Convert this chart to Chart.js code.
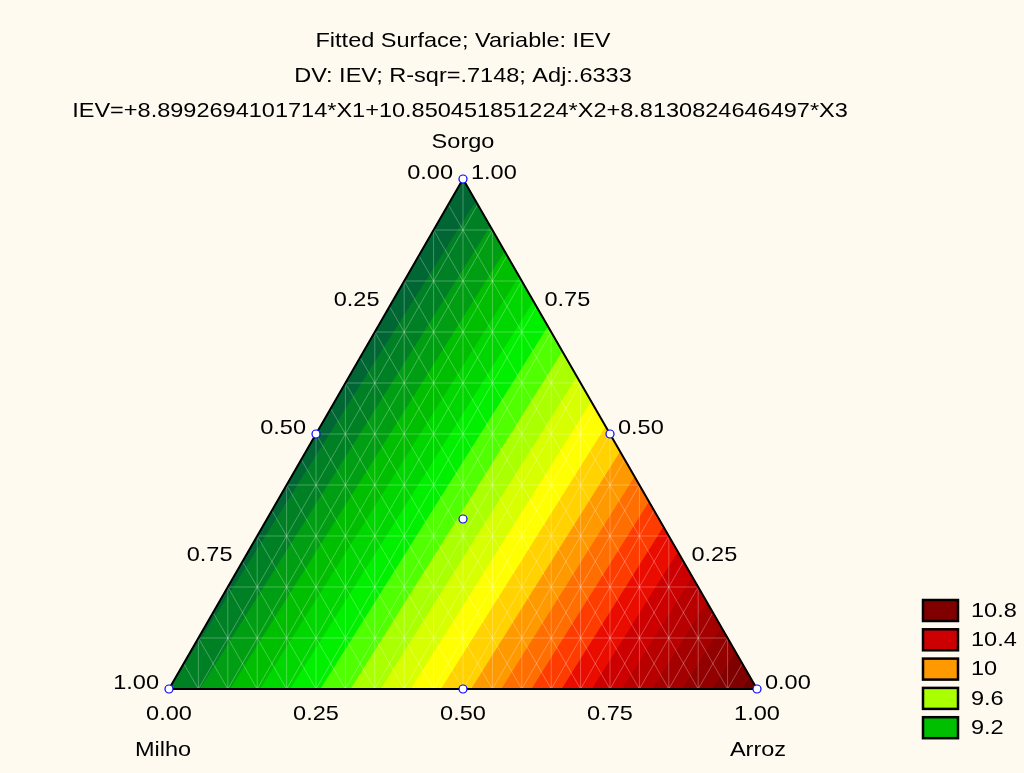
<!DOCTYPE html>
<html>
<head>
<meta charset="utf-8">
<title>Fitted Surface; Variable: IEV</title>
<script src="https://cdn.jsdelivr.net/npm/chart.js@4/dist/chart.umd.min.js"></script>
<style>
  html, body { margin: 0; padding: 0; background: #FFFAF0; }
  canvas { display: block; }
</style>
</head>
<body>
<canvas id="chart" width="1024" height="773"></canvas>
<script>
// ---- data ----
const titleLines = [
  'Fitted Surface; Variable: IEV',
  'DV: IEV; R-sqr=.7148; Adj:.6333',
  'IEV=+8.8992694101714*X1+10.850451851224*X2+8.8130824646497*X3'
];
// mixture components: X1, X2, X3
const components = ['Milho', 'Arroz', 'Sorgo'];
const coefficients = [8.8992694101714, 10.850451851224, 8.8130824646497];
// contour boundaries of the fitted surface
const contourLevels = [8.9, 9.0, 9.1, 9.2, 9.3, 9.4, 9.5, 9.6, 9.7, 9.8, 9.9,
                       10.0, 10.1, 10.2, 10.3, 10.4, 10.5, 10.6, 10.7, 10.8];
// one colour per band: below 8.9, each interval up to a level, above 10.8
const bandColors = ['#006633', '#008024', '#009E12', '#00BE00', '#00D700', '#00F000',
                    '#50FF00', '#AAFF00', '#D7FF00', '#FFFF00', '#FFD200', '#FF9900',
                    '#FF6E00', '#FF3C00', '#EB0C00', '#CC0000', '#B90000', '#A50000',
                    '#920000', '#800000', '#6E0000'];
const legendLevels = [10.8, 10.4, 10.0, 9.6, 9.2];
const legendLabels = ['10.8', '10.4', '10', '9.6', '9.2'];
const tickValues = [0, 0.25, 0.5, 0.75, 1];
const tickLabels = ['0.00', '0.25', '0.50', '0.75', '1.00'];
// design points as (Milho, Arroz, Sorgo) proportions
const designPoints = [
  [1, 0, 0], [0, 1, 0], [0, 0, 1],
  [0.5, 0.5, 0], [0.5, 0, 0.5], [0, 0.5, 0.5],
  [1 / 3, 1 / 3, 1 / 3]
];

// ---- ternary helpers ----
// (a, b, c) = (Milho, Arroz, Sorgo); Milho bottom-left, Arroz bottom-right, Sorgo at the apex
function toXY(a, b, c) { return { x: b + c / 2, y: c }; }
function surface(a, b, c) {
  return coefficients[0] * a + coefficients[1] * b + coefficients[2] * c;
}
const corners = [[1, 0, 0], [0, 1, 0], [0, 0, 1]].map(t => Object.assign(toXY(...t), { v: surface(...t) }));

// clip a polygon against v >= level (keepAbove) or v <= level
function clipPoly(poly, level, keepAbove) {
  const out = [];
  for (let i = 0; i < poly.length; i++) {
    const p = poly[i], q = poly[(i + 1) % poly.length];
    const pin = keepAbove ? p.v >= level : p.v <= level;
    const qin = keepAbove ? q.v >= level : q.v <= level;
    if (pin) out.push(p);
    if (pin !== qin) {
      const t = (level - p.v) / (q.v - p.v);
      out.push({ x: p.x + t * (q.x - p.x), y: p.y + t * (q.y - p.y), v: level });
    }
  }
  return out;
}

const datasets = [];

// contour bands
for (let i = 0; i <= contourLevels.length; i++) {
  let poly = corners;
  if (i > 0) poly = clipPoly(poly, contourLevels[i - 1], true);
  if (i < contourLevels.length) poly = clipPoly(poly, contourLevels[i], false);
  if (poly.length < 3) continue;
  const pts = poly.map(p => ({ x: p.x, y: p.y }));
  pts.push({ x: poly[0].x, y: poly[0].y });
  datasets.push({
    data: pts, fill: 'shape', backgroundColor: bandColors[i],
    borderColor: bandColors[i], borderWidth: 1, pointRadius: 0,
    tension: 0, order: 4
  });
}

// surface mesh
const meshSegments = [];
for (let k = 1; k < 10; k++) {          // horizontal rows
  const c = k / 10;
  meshSegments.push([toXY(1 - c, 0, c), toXY(0, 1 - c, c)]);
}
for (let j = 1; j < 20; j++) {
  const f = j / 20;
  meshSegments.push([toXY(1 - f, f, 0), toXY(0, f, 1 - f)]);   // constant Arroz
  meshSegments.push([toXY(f, 1 - f, 0), toXY(f, 0, 1 - f)]);   // constant Milho
  meshSegments.push([{ x: f, y: 0 }, { x: f, y: f <= 0.5 ? 2 * f : 2 * (1 - f) }]); // columns
}
meshSegments.forEach(seg => datasets.push({
  data: seg, borderColor: 'rgba(255,255,255,0.28)', borderWidth: 1,
  pointRadius: 0, fill: false, order: 3
}));

// triangle outline
const outline = [toXY(1, 0, 0), toXY(0, 1, 0), toXY(0, 0, 1), toXY(1, 0, 0)];
datasets.push({
  data: outline, borderColor: '#000000', borderWidth: 2, pointRadius: 0,
  fill: false, clip: false, order: 2, borderJoinStyle: 'miter'
});

// design points
datasets.push({
  data: designPoints.map(p => toXY(...p)), showLine: false,
  pointRadius: 4, pointBorderWidth: 1.2, pointBorderColor: '#0000FF',
  pointBackgroundColor: '#FFFFFF', clip: false, order: 1
});

// ---- text and legend ----
const FONT = '21px "Liberation Sans", Arial, sans-serif';
const STRETCH = 1.12;
function drawText(ctx, text, x, y, align) {
  ctx.save();
  ctx.font = FONT;
  ctx.fillStyle = '#000000';
  ctx.textBaseline = 'middle';
  ctx.textAlign = align || 'center';
  ctx.translate(x, y);
  ctx.scale(STRETCH, 1);
  ctx.fillText(text, 0, 0);
  ctx.restore();
}

const decorations = {
  id: 'decorations',
  beforeDraw(chart) {
    const ctx = chart.ctx;
    ctx.save();
    ctx.fillStyle = '#FFFAF0';
    ctx.fillRect(0, 0, chart.width, chart.height);
    ctx.restore();
  },
  afterDraw(chart) {
    const ctx = chart.ctx;
    const xs = chart.scales.x, ys = chart.scales.y;
    const px = (a, b, c) => { const p = toXY(a, b, c); return { X: xs.getPixelForValue(p.x), Y: ys.getPixelForValue(p.y) }; };
    const area = chart.chartArea;
    const cx = (area.left + area.right) / 2;

    titleLines.forEach((t, i) => drawText(ctx, t, cx - (i === 2 ? 3 : 0), area.top - 138 + i * 35));

    // Milho axis along the left edge
    tickValues.forEach((a, i) => {
      const p = px(a, 0, 1 - a);
      drawText(ctx, tickLabels[i], p.X - 10, p.Y - 6, 'right');
    });
    // Sorgo axis along the right edge
    tickValues.forEach((c, i) => {
      const p = px(0, 1 - c, c);
      drawText(ctx, tickLabels[i], p.X + 8, p.Y - 6, 'left');
    });
    // Arroz axis along the base
    tickValues.forEach((b, i) => {
      const p = px(1 - b, b, 0);
      drawText(ctx, tickLabels[i], p.X, p.Y + 25, 'center');
    });

    const top = px(0, 0, 1), left = px(1, 0, 0), right = px(0, 1, 0);
    drawText(ctx, components[2], top.X, top.Y - 37, 'center');
    drawText(ctx, components[0], left.X - 6, left.Y + 61, 'center');
    drawText(ctx, components[1], right.X + 1, right.Y + 61, 'center');

    // legend
    legendLevels.forEach((lv, i) => {
      const y0 = 599 + i * 29.3;
      const color = bandColors[contourLevels.indexOf(lv)];
      ctx.save();
      ctx.fillStyle = color;
      ctx.fillRect(923, y0 + 1, 35, 21);
      ctx.lineWidth = 2.5;
      ctx.strokeStyle = '#000000';
      ctx.strokeRect(923, y0 + 1, 35, 21);
      ctx.restore();
      drawText(ctx, legendLabels[i], 971, y0 + 12, 'left');
    });
  }
};

new Chart(document.getElementById('chart'), {
  type: 'line',
  data: { datasets },
  options: {
    responsive: false,
    animation: false,
    events: [],
    parsing: true,
    layout: { padding: { left: 169, right: 267, top: 179, bottom: 84 } },
    scales: {
      x: { type: 'linear', min: 0, max: 1, display: false },
      y: { type: 'linear', min: 0, max: 1, display: false }
    },
    plugins: {
      legend: { display: false },
      title: { display: false },
      tooltip: { enabled: false }
    }
  },
  plugins: [decorations]
});
</script>
</body>
</html>
